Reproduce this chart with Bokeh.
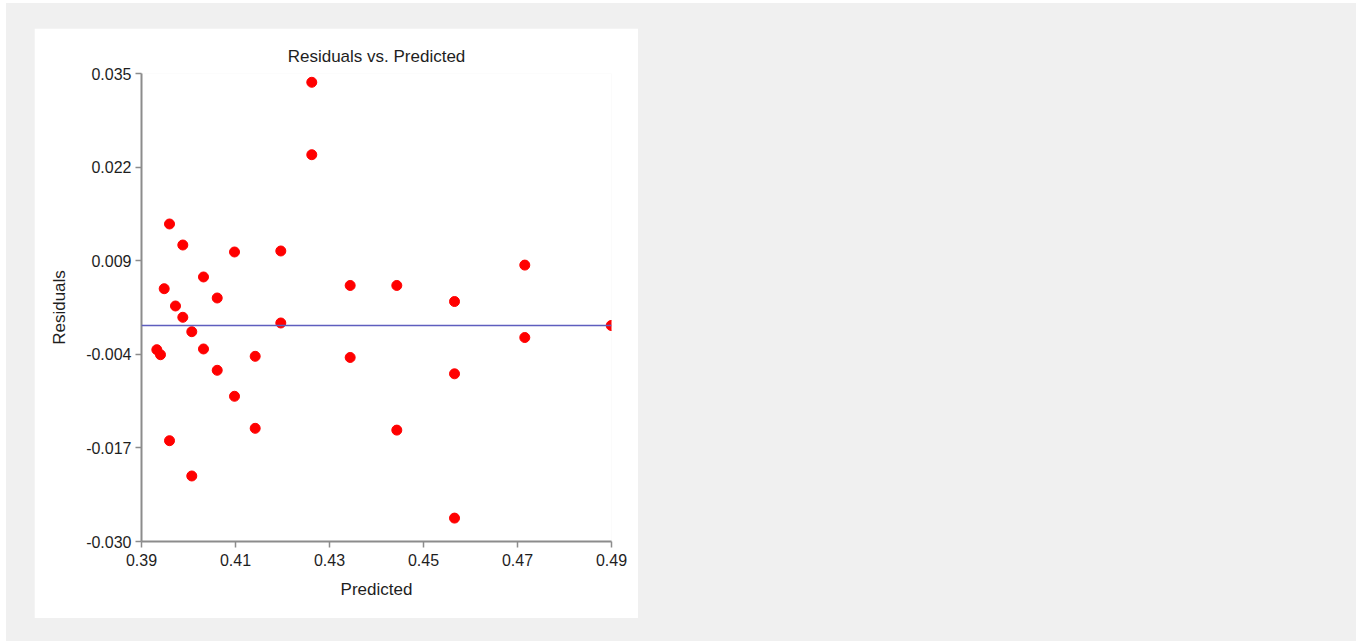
from bokeh.plotting import figure
from bokeh.models import FixedTicker, PrintfTickFormatter, Span, ColumnDataSource, Range1d
from bokeh.layouts import column
from bokeh.embed import file_html
from bokeh.resources import INLINE

predicted = [0.42623, 0.42623, 0.39596, 0.39879, 0.40979, 0.41964, 0.47155, 0.40319,
             0.39483, 0.43440, 0.44432, 0.40611, 0.45660, 0.39723, 0.39879, 0.41964,
             0.48994, 0.40070, 0.47155, 0.39326, 0.39404, 0.40319, 0.41419, 0.43440,
             0.40611, 0.45660, 0.40979, 0.41419, 0.44432, 0.39596, 0.40070, 0.45660]
residuals = [0.03378, 0.02372, 0.01410, 0.01118, 0.01021, 0.01035, 0.00839, 0.00674,
             0.00511, 0.00556, 0.00556, 0.00382, 0.00333, 0.00271, 0.00114, 0.00035,
             0.00000, -0.00086, -0.00167, -0.00336, -0.00406, -0.00326, -0.00428, -0.00444,
             -0.00622, -0.00671, -0.00983, -0.01428, -0.01453, -0.01600, -0.02090, -0.02675]

x_ticks = [0.39, 0.41, 0.43, 0.45, 0.47, 0.49]
y_ticks = [-0.030, -0.017, -0.004, 0.009, 0.022, 0.035]
reference_line = 0.0

FONT = "Liberation Sans"
TXT = "#1e1e1e"
AXC = "#8c8c8c"

source = ColumnDataSource(data=dict(x=predicted, y=residuals))

p = figure(width=604, height=590,
           x_range=Range1d(x_ticks[0], x_ticks[-1]),
           y_range=Range1d(y_ticks[0], y_ticks[-1]),
           output_backend="svg", toolbar_location=None,
           title="Residuals vs. Predicted",
           min_border_left=107, min_border_right=27,
           min_border_top=45, min_border_bottom=77,
           background_fill_color="white", border_fill_color="white",
           outline_line_color=None, margin=(25, 0, 0, 28))

p.title.align = "center"
p.title.text_font = FONT
p.title.text_font_size = "17px"
p.title.text_font_style = "normal"
p.title.text_color = TXT
p.title.standoff = 15

p.grid.visible = False

p.xaxis.ticker = FixedTicker(ticks=x_ticks)
p.yaxis.ticker = FixedTicker(ticks=y_ticks)
p.xaxis.formatter = PrintfTickFormatter(format="%.2f")
p.yaxis.formatter = PrintfTickFormatter(format="%.3f")
p.xaxis.axis_label = "Predicted"
p.yaxis.axis_label = "Residuals"

for ax in (p.xaxis, p.yaxis):
    ax.axis_line_color = AXC
    ax.axis_line_width = 2
    ax.major_tick_line_color = AXC
    ax.major_tick_line_width = 1.5
    ax.major_tick_out = 6
    ax.major_tick_in = 0
    ax.minor_tick_line_color = None
    ax.major_label_text_font = FONT
    ax.major_label_text_font_size = "16px"
    ax.major_label_text_color = TXT
    ax.major_label_standoff = 4
    ax.axis_label_text_font = FONT
    ax.axis_label_text_font_size = "17px"
    ax.axis_label_text_font_style = "normal"
    ax.axis_label_text_color = TXT

p.xaxis.major_label_standoff = 6
p.xaxis.axis_label_standoff = 11
p.yaxis.axis_label_standoff = 14

p.add_layout(Span(location=reference_line, dimension="width",
                  line_color="#5e5ebe", line_width=1.5))

p.scatter("x", "y", source=source, size=10, marker="circle",
          fill_color="#ff0000", line_color="#ff0000")

layout = column(p, width=1350, height=638, margin=(3, 0, 0, 6),
                styles={"background-color": "#f0f0f0"})

open("out.html", "w").write(file_html(layout, INLINE))
